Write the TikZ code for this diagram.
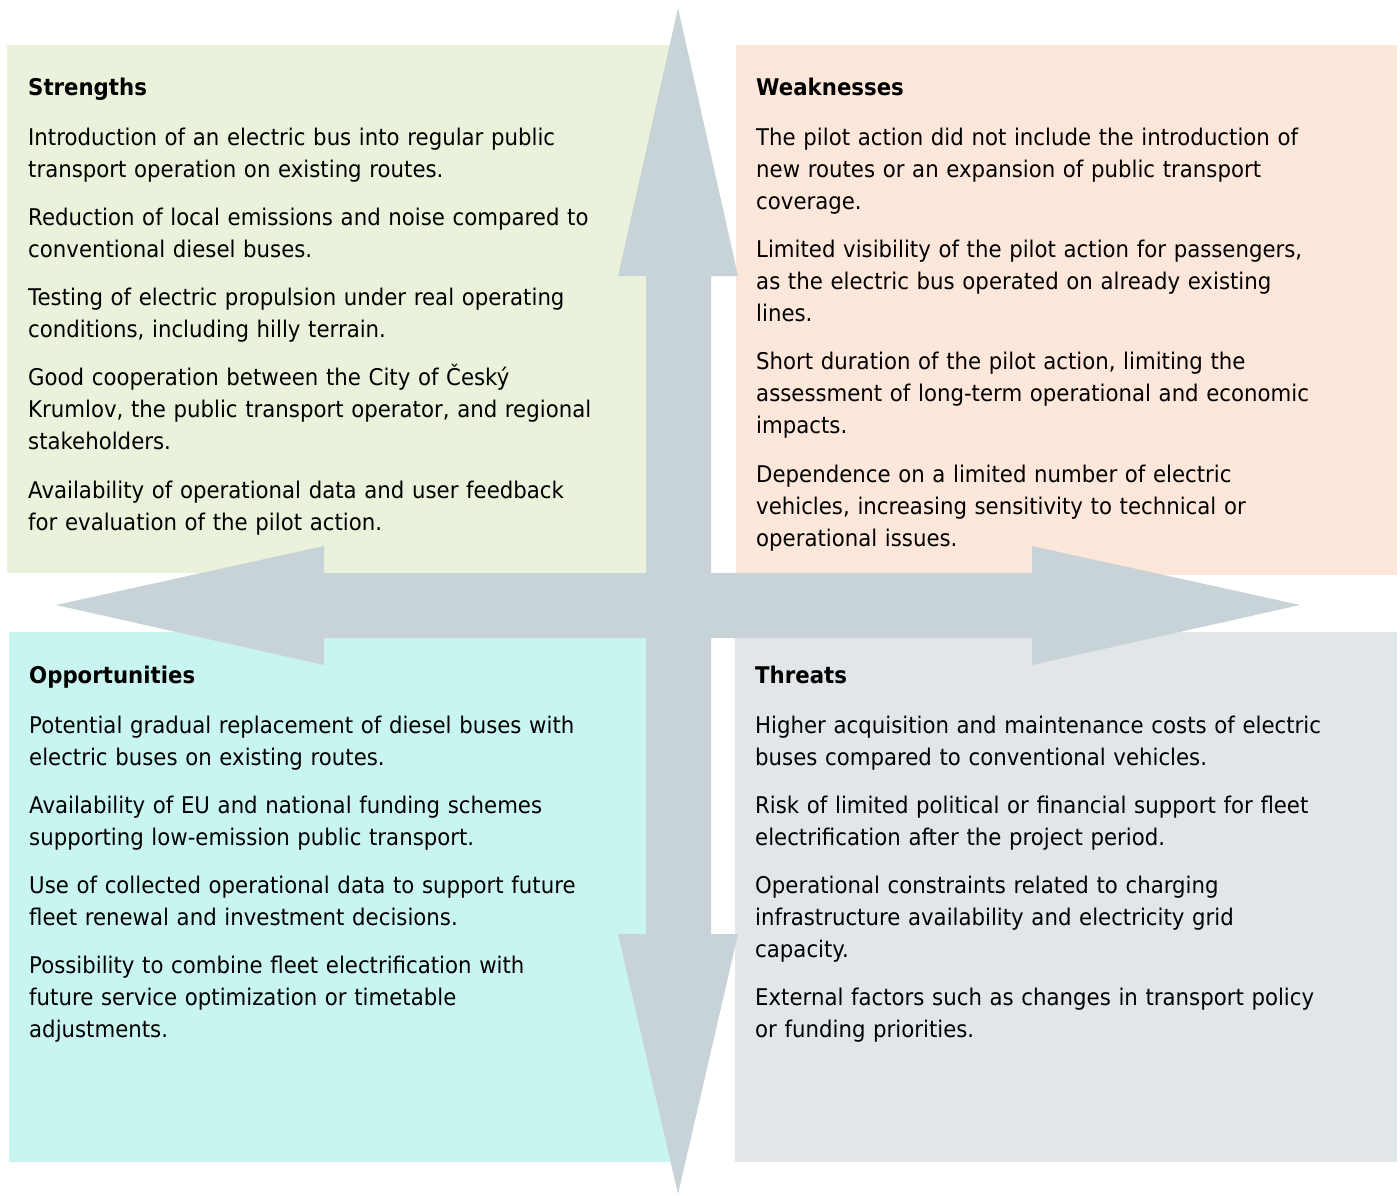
\documentclass[tikz,border=0pt]{standalone}
\usepackage{fontspec}
\setmainfont{DejaVu Sans}[FakeStretch=0.925]
\usetikzlibrary{positioning}
\definecolor{swotgreen}{HTML}{EAF2DC}
\definecolor{swotorange}{HTML}{FDE7DA}
\definecolor{swotcyan}{HTML}{C9F5F0}
\definecolor{swotgray}{HTML}{E1E6E9}
\definecolor{swotarrow}{HTML}{C8D3D7}

\begin{document}
\begin{tikzpicture}[
    x=1pt, y=-1pt,
    quad/.style={draw=none},
    arrowshape/.style={fill=swotarrow, draw=none},
    head/.style={anchor=base west, inner sep=0pt, font=\fontsize{23}{32}\selectfont\bfseries},
    body/.style={anchor=base west, inner sep=0pt, text width=620pt, align=left, font=\fontsize{23}{32}\selectfont}
]
    \useasboundingbox (0,0) rectangle (1400,1196);

    % Quadrant backgrounds
    \fill[quad, swotgreen] (7,45) rectangle (678,573);
    \fill[quad, swotorange] (736,45) rectangle (1397,575);
    \fill[quad, swotcyan] (9,632) rectangle (678,1162);
    \fill[quad, swotgray] (735,632) rectangle (1397,1162);

    % Double arrows
    \fill[arrowshape] (678,8) -- (738,276) -- (711,276) -- (711,934) -- (738,934)
        -- (678,1194) -- (618,934) -- (646,934) -- (646,276) -- (618,276) -- cycle;
    \fill[arrowshape] (56,605) -- (324,546) -- (324,573) -- (1032,573) -- (1032,546)
        -- (1300,605) -- (1032,665) -- (1032,638) -- (324,638) -- (324,665) -- cycle;

    % Strengths
    \node[head] (strengths) at (28,96) {Strengths};
    \node[body] (strengthsText) at (28,146) {Introduction of an electric bus into regular public\\
        transport operation on existing routes.\\[16pt]
        Reduction of local emissions and noise compared to\\
        conventional diesel buses.\\[16pt]
        Testing of electric propulsion under real operating\\
        conditions, including hilly terrain.\\[16pt]
        Good cooperation between the City of Český\\
        Krumlov, the public transport operator, and regional\\
        stakeholders.\\[17pt]
        Availability of operational data and user feedback\\
        for evaluation of the pilot action.};

    % Weaknesses
    \node[head] (weaknesses) at (756,96) {Weaknesses};
    \node[body] (weaknessesText) at (756,146) {The pilot action did not include the introduction of\\
        new routes or an expansion of public transport\\
        coverage.\\[16pt]
        Limited visibility of the pilot action for passengers,\\
        as the electric bus operated on already existing\\
        lines.\\[16pt]
        Short duration of the pilot action, limiting the\\
        assessment of long-term operational and economic\\
        impacts.\\[17pt]
        Dependence on a limited number of electric\\
        vehicles, increasing sensitivity to technical or\\
        operational issues.};

    % Opportunities
    \node[head] (opportunities) at (29,683) {Opportunities};
    \node[body] (opportunitiesText) at (29,733) {Potential gradual replacement of diesel buses with\\
        electric buses on existing routes.\\[16pt]
        Availability of EU and national funding schemes\\
        supporting low-emission public transport.\\[16pt]
        Use of collected operational data to support future\\
        fleet renewal and investment decisions.\\[16pt]
        Possibility to combine fleet electrification with\\
        future service optimization or timetable\\
        adjustments.};

    % Threats
    \node[head] (threats) at (755,683) {Threats};
    \node[body] (threatsText) at (755,733) {Higher acquisition and maintenance costs of electric\\
        buses compared to conventional vehicles.\\[16pt]
        Risk of limited political or financial support for fleet\\
        electrification after the project period.\\[16pt]
        Operational constraints related to charging\\
        infrastructure availability and electricity grid\\
        capacity.\\[16pt]
        External factors such as changes in transport policy\\
        or funding priorities.};
\end{tikzpicture}
\end{document}
